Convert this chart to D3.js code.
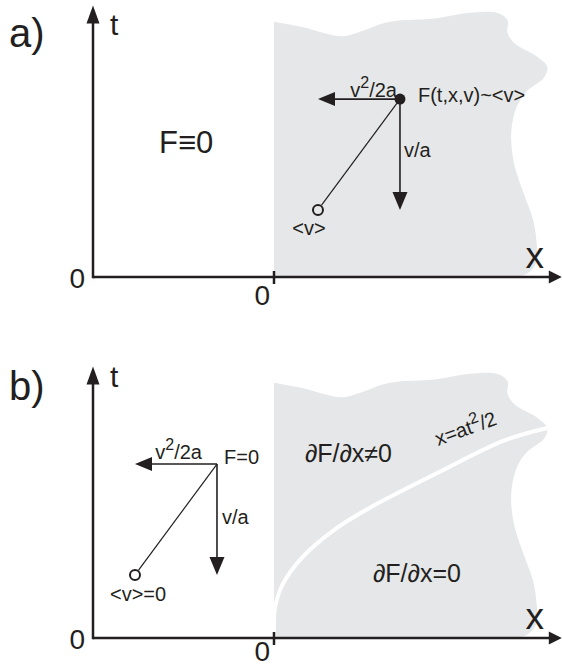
<!DOCTYPE html>
<html>
<head>
<meta charset="UTF-8">
<title>F(t,x,v)</title>
<style>
  body { margin: 0; background: #fff; }
  svg { display: block; }
  text { font-family: "Liberation Sans", Arial, sans-serif; fill: #231f20; }
</style>
</head>
<body>
<svg width="562" height="668"></svg>
<script src="https://cdn.jsdelivr.net/npm/d3@7"></script>
<script>
// outline of the shaded domain, in panel units (origin = 0,0)
const edgeX = [0, 0.16, 0.37, 0.46, 0.64, 0.90, 1.08, 1.23, 1.29, 1.29, 1.33, 1.45, 1.51, 1.49, 1.40, 1.35, 1.32, 1.31, 1.33, 1.38, 1.43, 1.45, 1.45, 1.40, 1.34];
const edgeT = [1.41, 1.38, 1.33, 1.35, 1.41, 1.43, 1.46, 1.46, 1.42, 1.35, 1.29, 1.22, 1.16, 1.10, 1.03, 0.96, 0.87, 0.76, 0.61, 0.46, 0.32, 0.20, 0.08, 0.02, 0];
// white curve x = at^2/2 (panel b only)
const curveX = [0, 0.006, 0.05, 0.16, 0.35, 0.53, 0.90, 1.27, 1.51];
const curveT = [0, 0.17, 0.30, 0.45, 0.61, 0.72, 0.91, 1.09, 1.16];
const axisX = [-1, 1.59];
const axisT = [0, 1.50];
const tickLabels = ['0', '0'];
const panelNames = ['a)', 'b)'];
// F point and <v> point of each panel
const pointX = [0.696, -0.315];
const pointT = [0.983, 0.961];
const meanX = [0.243, -0.768];
const meanT = [0.370, 0.348];

const svg = d3.select('svg');
const ink = '#231f20';
const shade = '#e6e7e8';
const origins = [277, 638];

function arrow(g, x1, y1, x2, y2, len, half, w) {
  const a = Math.atan2(y2 - y1, x2 - x1);
  const bx = x2 - len * Math.cos(a), by = y2 - len * Math.sin(a);
  g.append('line')
    .attr('x1', x1).attr('y1', y1).attr('x2', bx + Math.cos(a)).attr('y2', by + Math.sin(a))
    .attr('stroke', ink).attr('stroke-width', w);
  const nx = -Math.sin(a) * half, ny = Math.cos(a) * half;
  g.append('polygon')
    .attr('points', [[x2, y2], [bx + nx, by + ny], [bx - nx, by - ny]].map(p => p.join(',')).join(' '))
    .attr('fill', ink);
}

function supText(g, px, py, size, parts, anchor) {
  // parts: [base, sup, rest]
  const tx = g.append('text').attr('x', px).attr('y', py)
    .attr('font-size', size).attr('text-anchor', anchor || 'start');
  tx.append('tspan').text(parts[0]);
  tx.append('tspan').attr('font-size', size * 0.8).attr('dy', -size * 0.45).text(parts[1]);
  tx.append('tspan').attr('dy', size * 0.45).text(parts[2]);
  return tx;
}

panelNames.forEach((name, p) => {
  const g = svg.append('g');
  const x = d3.scaleLinear().domain([0, 1]).range([274, 455]);
  const t = d3.scaleLinear().domain([0, 1]).range([origins[p], origins[p] - 181]);

  // shaded domain
  const line = d3.line().x(d => x(d[0])).y(d => t(d[1])).curve(d3.curveCatmullRom.alpha(0.5));
  const edge = edgeX.map((v, i) => [v, edgeT[i]]);
  g.append('path')
    .attr('d', line(edge) + 'L' + x(0) + ',' + t(0) + 'Z')
    .attr('fill', shade);

  if (p === 1) {
    g.append('path')
      .attr('d', line(curveX.map((v, i) => [v, curveT[i]])))
      .attr('fill', 'none').attr('stroke', '#fff').attr('stroke-width', 4);
  }

  // axes
  arrow(g, x(axisX[0]), t(0), x(axisX[1]), t(0), 13, 6.5, 2.5);
  arrow(g, x(axisX[0]), t(0) + 1.25, x(axisX[0]), t(axisT[1]), 18, 6.5, 2.5);
  g.append('line')
    .attr('x1', x(0)).attr('x2', x(0)).attr('y1', t(0) - 6).attr('y2', t(0) + 7)
    .attr('stroke', ink).attr('stroke-width', 2.5);

  g.append('text').attr('x', x(axisX[0]) - 8).attr('y', t(0) + 11)
    .attr('font-size', 28).attr('text-anchor', 'end').text(tickLabels[0]);
  g.append('text').attr('x', x(0) - 4).attr('y', Math.min(t(0) + 28, 661))
    .attr('font-size', 28).attr('text-anchor', 'end').text(tickLabels[1]);
  g.append('text').attr('x', x(axisX[0]) + 17).attr('y', t(0) - (p ? 251 : 242))
    .attr('font-size', 30).text('t');
  g.append('text').attr('x', x(1.39)).attr('y', t(0) - 9)
    .attr('font-size', 37).text('x');
  g.append('text').attr('x', 9).attr('y', p ? 400 : 47)
    .attr('font-size', 40).text(name);

  // vectors
  const fx = x(pointX[p]), fy = t(pointT[p]);
  const mx = x(meanX[p]), my = t(meanT[p]);
  const r = 5;
  const ang = Math.atan2(my - fy, mx - fx);
  g.append('line')
    .attr('x1', fx).attr('y1', fy)
    .attr('x2', mx - (r + 1) * Math.cos(ang)).attr('y2', my - (r + 1) * Math.sin(ang))
    .attr('stroke', ink).attr('stroke-width', 1.2);
  arrow(g, fx, fy, mx, fy, 17, 7, 1.6);
  arrow(g, fx, fy, fx, my, 18, 7.5, 1.6);
  g.append('circle').attr('cx', mx).attr('cy', my).attr('r', r)
    .attr('fill', 'none').attr('stroke', ink).attr('stroke-width', 2);

  if (p === 0) {
    g.append('circle').attr('cx', fx).attr('cy', fy).attr('r', 5.5).attr('fill', ink);
    supText(g, fx - 3, fy - 2, 20, ['v', '2', '/2a'], 'end');
    g.append('text').attr('x', fx + 18).attr('y', fy + 3).attr('font-size', 20).text('F(t,x,v)~<v>');
    g.append('text').attr('x', fx + 4).attr('y', (fy + my) / 2 + 2).attr('font-size', 20).text('v/a');
    g.append('text').attr('x', mx - 9).attr('y', my + 25).attr('font-size', 20)
      .attr('text-anchor', 'middle').text('<v>');
    g.append('text').attr('x', x(-0.635)).attr('y', t(0.685)).attr('font-size', 31).text('F≡0');
  } else {
    supText(g, fx - 15, fy - 5, 20, ['v', '2', '/2a'], 'end');
    g.append('text').attr('x', fx + 7).attr('y', fy).attr('font-size', 20).text('F=0');
    g.append('text').attr('x', fx + 5).attr('y', (fy + my) / 2 + 4).attr('font-size', 20).text('v/a');
    g.append('text').attr('x', mx - 25).attr('y', my + 26).attr('font-size', 20).text('<v>=0');
    g.append('text').attr('x', x(0.171)).attr('y', t(0.972)).attr('font-size', 25).text('∂F/∂x≠0');
    g.append('text').attr('x', x(0.547)).attr('y', t(0.309)).attr('font-size', 25).text('∂F/∂x=0');
    const lx = x(0.906), ly = t(1.061);
    supText(g, 0, 0, 20, ['x=at', '2', '/2'])
      .attr('transform', 'translate(' + lx + ',' + ly + ') rotate(-20)');
  }
});
</script>
</body>
</html>
